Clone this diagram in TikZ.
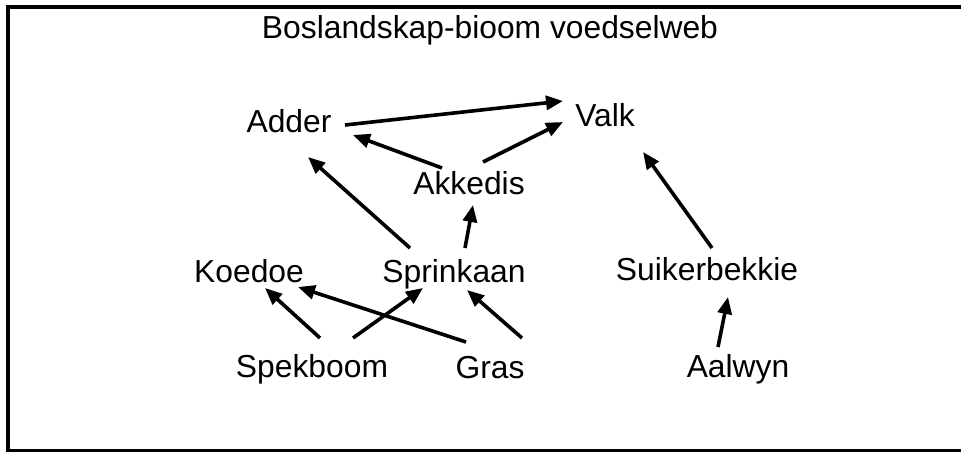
\documentclass[tikz,border=0pt]{standalone}
\usepackage{fontspec}
\setmainfont{Liberation Sans}
\usetikzlibrary{calc,arrows.meta}

\tikzset{
  soort/.style={inner sep=0pt,text height=22pt,text depth=0pt,
    font=\fontsize{31.8}{36}\selectfont},
  eet/.style={line width=3.6pt,-{Triangle[length=17pt,width=14pt]}}
}

\begin{document}
\begin{tikzpicture}[x=1pt,y=-1pt]
\useasboundingbox (0,0) rectangle (961,452);
\begin{scope}
\clip (0,0) rectangle (961,452);
\draw[line width=4pt] (975,7) -- (8,7) -- (8,451) -- (975,451);
\end{scope}

\node[soort] (titel) at (490,28) {Boslandskap-bioom voedselweb};

\node[soort] (adder) at (289,121) {Adder};
\node[soort] (valk) at (605,115) {Valk};
\node[soort] (akkedis) at (469,183) {Akkedis};
\node[soort] (koedoe) at (249,271) {Koedoe};
\node[soort] (sprinkaan) at (454,271) {Sprinkaan};
\node[soort] (suiker) at (707,269) {Suikerbekkie};
\node[soort] (spekboom) at (312,366) {Spekboom};
\node[soort] (gras) at (490,367) {Gras};
\node[soort] (aalwyn) at (738,366) {Aalwyn};

% wie eet wie
\draw[eet] ($(adder)+(56,4)$) -- ($(valk)+(-42,-14)$);
\draw[eet] ($(akkedis)+(-27,-15)$) -- ($(adder)+(64,14)$);
\draw[eet] ($(akkedis)+(14,-21)$) -- ($(valk)+(-42,7)$);
\draw[eet] ($(sprinkaan)+(-44,-23)$) -- ($(adder)+(19,36)$);
\draw[eet] ($(sprinkaan)+(11,-23)$) -- ($(akkedis)+(4,22)$);
\draw[eet] ($(suiker)+(5,-21)$) -- ($(valk)+(38,37)$);
\draw[eet] ($(aalwyn)+(-20,-19)$) -- ($(suiker)+(21,28)$);
\draw[eet] ($(spekboom)+(8,-28)$) -- ($(koedoe)+(16,17)$);
\draw[eet] ($(spekboom)+(41,-28)$) -- ($(sprinkaan)+(-31,17)$);
\draw[eet] ($(gras)+(-24,-25)$) -- ($(koedoe)+(49,16)$);
\draw[eet] ($(gras)+(32,-29)$) -- ($(sprinkaan)+(13,19)$);
\end{tikzpicture}
\end{document}
